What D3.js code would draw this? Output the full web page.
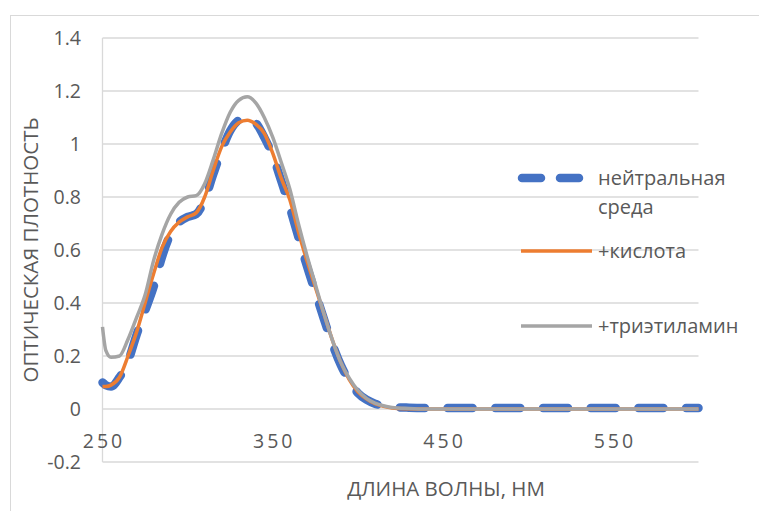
<!DOCTYPE html>
<html>
<head>
<meta charset="utf-8">
<script src="https://cdn.jsdelivr.net/npm/d3@7"></script>
<style>
  body { margin: 0; background: #fff; }
  text { font-family: "Open Sans", "Noto Sans", sans-serif; fill: #595959; }
</style>
</head>
<body>
<svg id="chart" width="759" height="511"></svg>
<script>
// wavelength grid, nm
var wavelengths = [250, 252, 255, 260, 265, 270, 275, 280, 285, 290, 295, 300, 305, 310, 315, 320,
  325, 330, 335, 340, 345, 350, 355, 360, 365, 370, 375, 380, 385, 390, 395, 400,
  405, 410, 415, 420, 430, 440, 450, 500, 550, 600];

var neutral = [0.10, 0.09, 0.085, 0.12, 0.18, 0.28, 0.37, 0.46, 0.575, 0.66, 0.705, 0.725, 0.735, 0.79, 0.885, 0.975,
  1.05, 1.09, 1.10, 1.08, 1.025, 0.955, 0.86, 0.76, 0.65, 0.54, 0.44, 0.34, 0.245, 0.165, 0.105, 0.06,
  0.035, 0.02, 0.012, 0.008, 0.005, 0.004, 0.004, 0.004, 0.004, 0.004];

var acid = [0.085, 0.085, 0.09, 0.12, 0.20, 0.29, 0.40, 0.51, 0.61, 0.67, 0.705, 0.725, 0.74, 0.80, 0.90, 0.99,
  1.045, 1.08, 1.09, 1.075, 1.04, 0.965, 0.87, 0.79, 0.67, 0.56, 0.46, 0.36, 0.26, 0.175, 0.11, 0.065,
  0.038, 0.02, 0.01, 0.004, 0.001, 0, 0, 0, 0, 0];

var amine = [0.31, 0.22, 0.195, 0.20, 0.263, 0.345, 0.43, 0.56, 0.66, 0.735, 0.78, 0.80, 0.805, 0.85, 0.94, 1.04,
  1.12, 1.165, 1.178, 1.155, 1.10, 1.025, 0.93, 0.83, 0.70, 0.58, 0.47, 0.36, 0.26, 0.175, 0.115, 0.07,
  0.04, 0.022, 0.012, 0.006, 0.002, 0, 0, 0, 0, 0];

var yTicks = [-0.2, 0, 0.2, 0.4, 0.6, 0.8, 1, 1.2, 1.4];
var xTicks = [250, 350, 450, 550];

var seriesNames = ['нейтральная среда', '+кислота', '+триэтиламин'];
var seriesColors = ['#4472c4', '#ed7d31', '#a5a5a5'];

var svg = d3.select('#chart');

// chart frame
svg.append('rect')
  .attr('x', 10.5).attr('y', 15.5)
  .attr('width', 800).attr('height', 600)
  .attr('fill', 'none')
  .attr('stroke', '#d9d9d9');

var x = d3.scaleLinear().domain([250, 600]).range([102.5, 698.5]);
var y = d3.scaleLinear().domain([-0.2, 1.4]).range([462, 38]);

// gridlines
svg.append('g').selectAll('line')
  .data(yTicks)
  .enter().append('line')
  .attr('x1', x(250)).attr('x2', x(600))
  .attr('y1', function(d) { return y(d); })
  .attr('y2', function(d) { return y(d); })
  .attr('stroke', '#d9d9d9')
  .attr('stroke-width', 1.3);

// vertical axis line
svg.append('line')
  .attr('x1', x(250)).attr('x2', x(250))
  .attr('y1', y(1.4)).attr('y2', y(-0.2))
  .attr('stroke', '#d9d9d9')
  .attr('stroke-width', 1.3);

// y tick labels
svg.append('g').selectAll('text')
  .data(yTicks)
  .enter().append('text')
  .attr('x', 81)
  .attr('y', function(d) { return y(d) + 7; })
  .attr('text-anchor', 'end')
  .style('font-size', '19.5px')
  .text(function(d) { return d; });

// x tick labels (sit under the zero line)
svg.append('g').selectAll('text')
  .data(xTicks)
  .enter().append('text')
  .attr('x', function(d) { return x(d) + 1.5; })
  .attr('y', 448)
  .attr('text-anchor', 'middle')
  .style('font-size', '19.5px')
  .style('letter-spacing', '3px')
  .text(function(d) { return d; });

// axis titles
svg.append('text')
  .attr('x', 446).attr('y', 496)
  .attr('text-anchor', 'middle')
  .style('font-size', '20.5px')
  .text('ДЛИНА ВОЛНЫ, НМ');

svg.append('text')
  .attr('transform', 'translate(38,250) rotate(-90)')
  .attr('text-anchor', 'middle')
  .style('font-size', '20.5px')
  .text('ОПТИЧЕСКАЯ ПЛОТНОСТЬ');

var line = d3.line()
  .x(function(d) { return x(d[0]); })
  .y(function(d) { return y(d[1]); })
  .curve(d3.curveMonotoneX);

function pairs(vals) {
  return wavelengths.map(function(w, i) { return [w, vals[i]]; });
}

svg.append('path')
  .attr('d', line(pairs(neutral)))
  .attr('fill', 'none')
  .attr('stroke', seriesColors[0])
  .attr('stroke-width', 8.5)
  .attr('stroke-linecap', 'round')
  .attr('stroke-dasharray', '25,22.7');

svg.append('path')
  .attr('d', line(pairs(acid)))
  .attr('fill', 'none')
  .attr('stroke', seriesColors[1])
  .attr('stroke-width', 3.5)
  .attr('stroke-linejoin', 'round');

svg.append('path')
  .attr('d', line(pairs(amine)))
  .attr('fill', 'none')
  .attr('stroke', seriesColors[2])
  .attr('stroke-width', 3.5)
  .attr('stroke-linejoin', 'round');

// legend
var lg = svg.append('g');
lg.append('line')
  .attr('x1', 522).attr('x2', 579).attr('y1', 178).attr('y2', 178)
  .attr('stroke', seriesColors[0]).attr('stroke-width', 8.5)
  .attr('stroke-linecap', 'round').attr('stroke-dasharray', '19,19');
lg.append('text').attr('x', 598).attr('y', 185).style('font-size', '20px').text('нейтральная');
lg.append('text').attr('x', 598).attr('y', 214).style('font-size', '20px').text('среда');

lg.append('line')
  .attr('x1', 521).attr('x2', 592).attr('y1', 251).attr('y2', 251)
  .attr('stroke', seriesColors[1]).attr('stroke-width', 3.5);
lg.append('text').attr('x', 598).attr('y', 258).style('font-size', '20px').text(seriesNames[1]);

lg.append('line')
  .attr('x1', 521).attr('x2', 592).attr('y1', 326).attr('y2', 326)
  .attr('stroke', seriesColors[2]).attr('stroke-width', 3.5);
lg.append('text').attr('x', 598).attr('y', 333).style('font-size', '20px').text(seriesNames[2]);
</script>
</body>
</html>
